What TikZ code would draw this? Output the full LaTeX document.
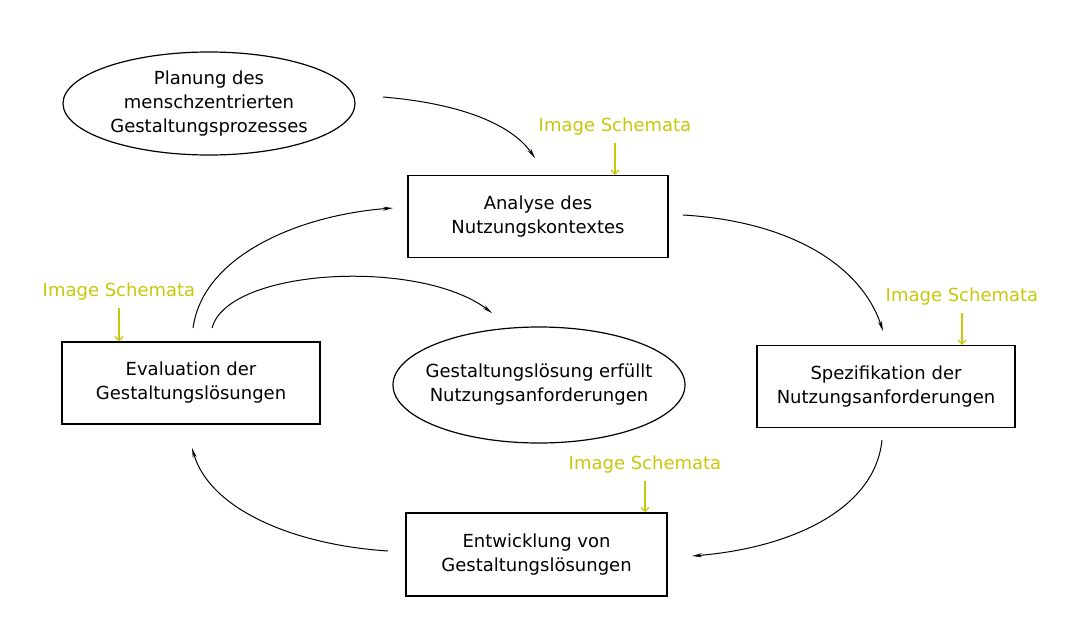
\documentclass[tikz,border=0pt]{standalone}
\usepackage{fontspec}
\setmainfont{DejaVu Sans}
\usetikzlibrary{arrows.meta,shapes.geometric,calc}
\definecolor{schemayellow}{RGB}{200,200,10}
\begin{document}
\begin{tikzpicture}[x=1pt,y=-1pt,
  every node/.style={font=\fontsize{18}{24}\selectfont, align=center, inner sep=0pt},
  procbox/.style={draw, line width=1.3pt, minimum width=#1, minimum height=82pt},
  oval/.style={draw, ellipse, line width=1.2pt, inner xsep=-16pt},
  flow/.style={line width=1pt, -{Stealth[length=10pt,width=4pt]}},
  schema/.style={text=schemayellow},
  schemaarrow/.style={draw=schemayellow, line width=1.3pt, -{Straight Barb[length=4pt,width=8pt]}}
]
\useasboundingbox (0,0) rectangle (1069,637);

\node[oval, minimum width=292pt, minimum height=103pt] (plan) at (209,103.5) {Planung des\\menschzentrierten\\Gestaltungsprozesses};
\node[procbox=260pt] (ana) at (538,216.5) {Analyse des\\Nutzungskontextes};
\node[procbox=258pt] (spez) at (886,386.5) {Spezifikation der\\Nutzungsanforderungen};
\node[procbox=261pt, minimum height=83pt] (entw) at (536.5,554.5) {Entwicklung von\\Gestaltungslösungen};
\node[procbox=258pt] (eval) at (191,383) {Evaluation der\\Gestaltungslösungen};
\node[oval, minimum width=292pt, minimum height=116pt] (erf) at (539,385) {Gestaltungslösung erfüllt\\Nutzungsanforderungen};

\node[schema] (isA) at (615,127) {Image Schemata};
\node[schema] (isS) at (962,297) {Image Schemata};
\node[schema] (isE) at (645,465) {Image Schemata};
\node[schema] (isV) at (119,292) {Image Schemata};

\draw[schemaarrow] ($(isA.south)+(0,7)$) -- (ana.north -| isA);
\draw[schemaarrow] ($(isS.south)+(0,7)$) -- (spez.north -| isS);
\draw[schemaarrow] ($(isE.south)+(0,7)$) -- (entw.north -| isE);
\draw[schemaarrow] ($(isV.south)+(0,7)$) -- (eval.north -| isV);

\coordinate (p1s) at (383,97);   \coordinate (p1e) at (535,158);
\coordinate (p2s) at (683,215);  \coordinate (p2e) at (883,331);
\coordinate (p3s) at (882,440);  \coordinate (p3e) at (692,556);
\coordinate (p4s) at (388,551);  \coordinate (p4e) at (192,448);
\coordinate (p5s) at (193,328);  \coordinate (p5e) at (393,208);
\coordinate (p6s) at (212,328);  \coordinate (p6e) at (492,313);

\draw[flow] (p1s) .. controls (455,103) and (510,122) .. (p1e);
\draw[flow] (p2s) .. controls (785,221) and (860,262) .. (p2e);
\draw[flow] (p3s) .. controls (875,510) and (790,548) .. (p3e);
\draw[flow] (p4s) .. controls (295,545) and (210,510) .. (p4e);
\draw[flow] (p5s) .. controls (203,255) and (300,215) .. (p5e);
\draw[flow] (p6s) .. controls (228,268) and (420,258) .. (p6e);
\end{tikzpicture}
\end{document}
